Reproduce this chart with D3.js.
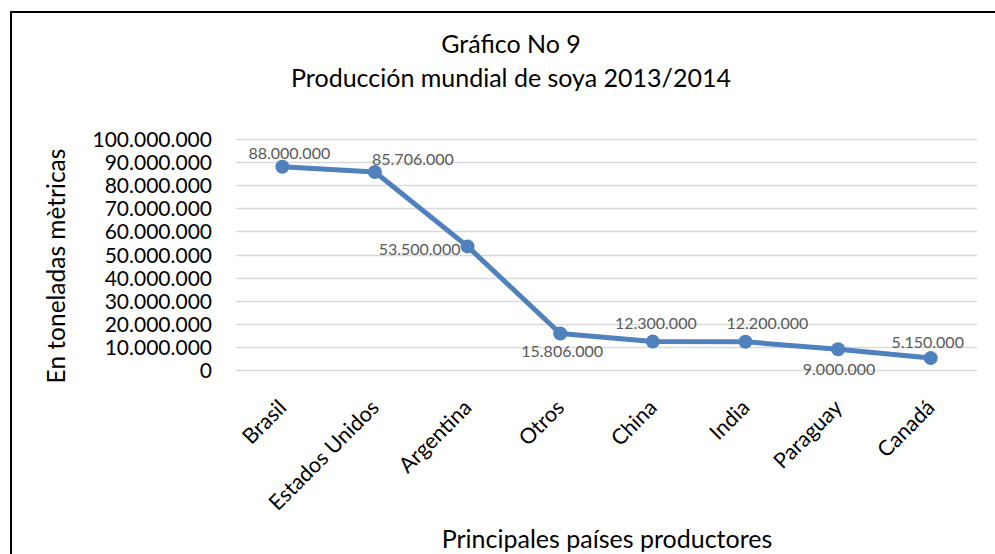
<!DOCTYPE html>
<html>
<head>
<meta charset="utf-8">
<script src="https://cdn.jsdelivr.net/npm/d3@7"></script>
<style>
  body { margin: 0; background: #fff; }
  svg { display: block; font-family: Lato, "Open Sans", sans-serif; }
</style>
</head>
<body>
<div id="chart"></div>
<script>
// datos
var paises = ["Brasil", "Estados Unidos", "Argentina", "Otros", "China", "India", "Paraguay", "Canadá"];
var produccion = [88000000, 85706000, 53500000, 15806000, 12300000, 12200000, 9000000, 5150000];
var yTicks = [0, 10000000, 20000000, 30000000, 40000000, 50000000, 60000000, 70000000, 80000000, 90000000, 100000000];
var titulo = ["Gráfico No 9", "Producción mundial de soya 2013/2014"];
var tituloY = "En toneladas mètricas";
var tituloX = "Principales países productores";

// where each data label sits relative to its point (layout only)
var labelPos = [[7, -8], [38, -7], [-48, 9], [2, 24], [3, -13], [22, -13], [1, 26], [-3, -10]];

var W = 995, H = 554;
var margin = {left: 236, right: 18, top: 139, bottom: 184};

var svg = d3.select("#chart").append("svg")
    .attr("width", W)
    .attr("height", H);

// chart border (only top and left are in view)
svg.append("path")
    .attr("d", "M11,554 L11,12 L995,12")
    .attr("fill", "none")
    .attr("stroke", "#000")
    .attr("stroke-width", 2);

var x = d3.scalePoint()
    .domain(paises)
    .range([margin.left, W - margin.right])
    .padding(0.5);

var y = d3.scaleLinear()
    .domain([0, 100000000])
    .range([H - margin.bottom, margin.top]);

var fmt = function(v) {
    return d3.format(",")(v).replace(/,/g, ".");
};

// grid lines
svg.append("g")
    .selectAll("line")
    .data(yTicks)
    .enter().append("line")
    .attr("x1", margin.left)
    .attr("x2", W - margin.right)
    .attr("y1", function(d) { return Math.round(y(d)) + 0.5; })
    .attr("y2", function(d) { return Math.round(y(d)) + 0.5; })
    .attr("stroke", "#d9d9d9")
    .attr("stroke-width", 1.5);

// y axis labels
var yAxis = d3.axisLeft(y).tickValues(yTicks).tickSize(0).tickPadding(0).tickFormat(fmt);
var gy = svg.append("g")
    .attr("transform", "translate(212,0)")
    .call(yAxis);
gy.select(".domain").remove();
gy.selectAll("text")
    .attr("font-family", "Lato, sans-serif")
    .attr("font-size", 21)
    .attr("fill", "#000")
    .attr("dy", "0.36em");

// x axis labels
var xAxis = d3.axisBottom(x).tickSize(0).tickPadding(0);
var gx = svg.append("g")
    .attr("transform", "translate(0,409)")
    .call(xAxis);
gx.select(".domain").remove();
gx.selectAll("text")
    .attr("font-family", "Lato, sans-serif")
    .attr("font-size", 21.5)
    .attr("fill", "#000")
    .attr("text-anchor", "end")
    .attr("y", 0)
    .attr("dy", 0)
    .attr("transform", "translate(5,0) rotate(-45)");

// line
var line = d3.line()
    .x(function(d, i) { return x(paises[i]); })
    .y(function(d) { return y(d); });

svg.append("path")
    .datum(produccion)
    .attr("d", line)
    .attr("fill", "none")
    .attr("stroke", "#4f81bd")
    .attr("stroke-width", 5)
    .attr("stroke-linejoin", "round");

svg.append("g")
    .selectAll("circle")
    .data(produccion)
    .enter().append("circle")
    .attr("cx", function(d, i) { return x(paises[i]); })
    .attr("cy", function(d) { return y(d); })
    .attr("r", 7)
    .attr("fill", "#4f81bd");

// data labels
svg.append("g")
    .selectAll("text")
    .data(produccion)
    .enter().append("text")
    .attr("x", function(d, i) { return x(paises[i]) + labelPos[i][0]; })
    .attr("y", function(d, i) { return y(d) + labelPos[i][1]; })
    .attr("text-anchor", "middle")
    .attr("font-size", 16)
    .attr("fill", "#595959")
    .text(fmt);

// titles
svg.append("g")
    .selectAll("text")
    .data(titulo)
    .enter().append("text")
    .attr("x", 511)
    .attr("y", function(d, i) { return 53 + i * 34; })
    .attr("text-anchor", "middle")
    .attr("font-size", 25)
    .attr("fill", "#000")
    .text(function(d) { return d; });

svg.append("text")
    .attr("transform", "translate(65,266) rotate(-90)")
    .attr("text-anchor", "middle")
    .attr("font-size", 24.5)
    .attr("fill", "#000")
    .text(tituloY);

svg.append("text")
    .attr("x", 607)
    .attr("y", 548)
    .attr("text-anchor", "middle")
    .attr("font-size", 25)
    .attr("fill", "#000")
    .text(tituloX);
</script>
</body>
</html>
